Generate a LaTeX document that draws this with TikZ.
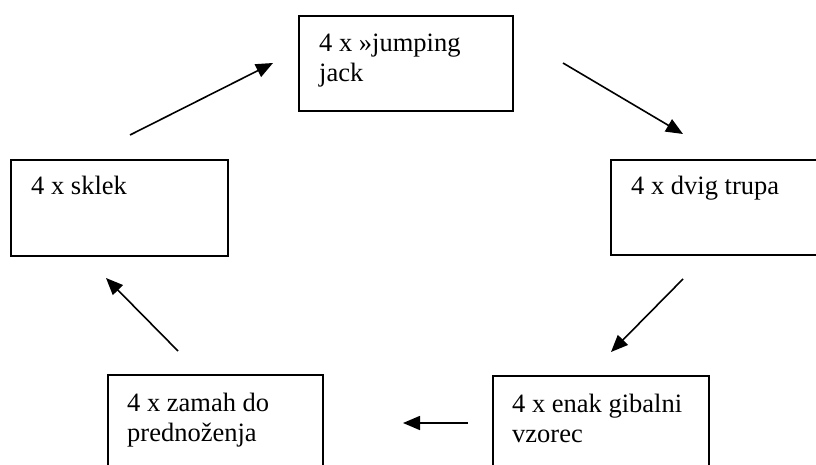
\documentclass[tikz,border=0pt]{standalone}
\usepackage{fontspec}
\setmainfont{Liberation Serif}
\usetikzlibrary{arrows.meta,calc}
\begin{document}
\begin{tikzpicture}[x=1pt,y=-1pt,
  box/.style={draw=black,line width=2.2pt,anchor=north west,inner sep=0pt},
  txt/.style={anchor=base west,inner sep=0pt,align=left,font={\fontsize{26.5}{30}\selectfont}},
  arr/.style={line width=1.6pt,-{Triangle[length=17pt,width=14pt]}}]
\useasboundingbox (0,0) rectangle (816,465);
\begin{scope}
\clip (0,0) rectangle (816,465);
\node[box,minimum width=214pt,minimum height=95pt] (top) at (298,15) {};
\node[box,minimum width=217pt,minimum height=96pt] (left) at (10,159) {};
\node[box,minimum width=220pt,minimum height=95pt] (right) at (610,159) {};
\node[box,minimum width=215pt,minimum height=106pt] (bl) at (107,374) {};
\node[box,minimum width=216pt,minimum height=105pt] (br) at (492,375) {};
\end{scope}
\node[txt] (toptext) at ($(top.north west)+(21,67)$) {4 x »jumping\\jack};
\node[txt] (lefttext) at ($(left.north west)+(21,36)$) {4 x sklek};
\node[txt] (righttext) at ($(right.north west)+(21,36)$) {4 x dvig trupa};
\node[txt] (bltext) at ($(bl.north west)+(20,67)$) {4 x zamah do\\predno\v{z}enja};
\node[txt] (brtext) at ($(br.north west)+(20,67)$) {4 x enak gibalni\\vzorec};
\coordinate (a1s) at (130,135); \coordinate (a1e) at (273,63);
\coordinate (a2s) at (563,63);  \coordinate (a2e) at (683,134);
\coordinate (a3s) at (683,279); \coordinate (a3e) at (611,352);
\coordinate (a4s) at (468,423); \coordinate (a4e) at (403,423);
\coordinate (a5s) at (178,351); \coordinate (a5e) at (106,278);
\draw[arr] (a1s) -- (a1e);
\draw[arr] (a2s) -- (a2e);
\draw[arr] (a3s) -- (a3e);
\draw[arr] (a4s) -- (a4e);
\draw[arr] (a5s) -- (a5e);
\end{tikzpicture}
\end{document}
